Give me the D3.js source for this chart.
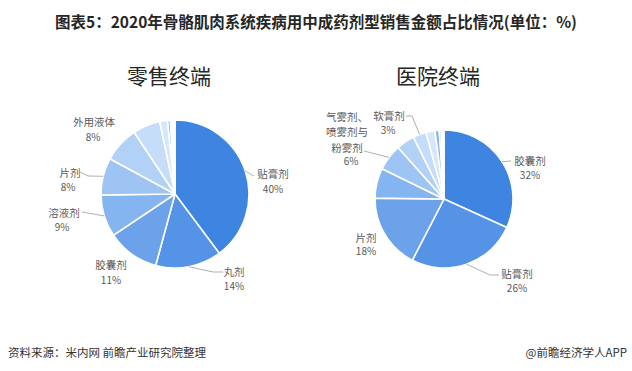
<!DOCTYPE html>
<html><head><meta charset="utf-8">
<script src="https://cdn.jsdelivr.net/npm/d3@7/dist/d3.min.js"></script>
<style>
html,body{margin:0;padding:0;background:#fff;}
svg{display:block;font-family:"Noto Sans CJK SC","Noto Sans",sans-serif;}
</style></head>
<body>
<svg id="chart" width="632" height="371"></svg>
<script>
// ---- data ----
const titleText = "图表5：2020年骨骼肌肉系统疾病用中成药剂型销售金额占比情况(单位：%)";
const retailTitle = "零售终端";
const hospitalTitle = "医院终端";
const retailCategories = ["贴膏剂","丸剂","胶囊剂","溶液剂","片剂","外用液体","","","","","",""];
const retailValues = [39.8,14.4,11.4,9.2,8.1,7.8,6.0,1.7,0.6,0.4,0.3,0.3];
const hospitalCategories = ["胶囊剂","贴膏剂","片剂","","气雾剂、喷雾剂与粉雾剂","","软膏剂","","","","",""];
const hospitalValues = [31.8,25.8,17.6,7.0,6.2,4.3,3.1,2.1,1.0,0.5,0.4,0.2];
const sourceText = "资料来源：米内网 前瞻产业研究院整理";
const creditText = "@前瞻经济学人APP";

// ---- styling / layout ----
const palette = ["#3d85e0","#5593e6","#6ba2ea","#84b5f0","#9ec4f3","#b2d1f6","#c5ddf9","#d5e7fb","#8db3e3","#a9c6ec","#c3d8f2","#dbe8f7"];
const svg = d3.select("#chart");

svg.append("text").attr("x",316).attr("y",21).attr("text-anchor","middle")
  .attr("dominant-baseline","central").attr("font-size",15.5).attr("font-weight","bold")
  .attr("fill","#262626").text(titleText);

svg.append("text").attr("x",8).attr("y",352).attr("dominant-baseline","central")
  .attr("font-size",11.5).attr("fill","#333").text(sourceText);
svg.append("text").attr("x",627).attr("y",352).attr("dominant-baseline","central")
  .attr("text-anchor","end").attr("font-size",11.5).attr("fill","#333").text(creditText);

// label layout (relative to pie centre); leader = bend points after the slice's outer-arc midpoint
const retailLayout = {
  "贴膏剂": {lines:["贴膏剂"], x:98, y:-21, pctDy:15, leader:[[75,-20],[79,-18]]},
  "丸剂":   {lines:["丸剂"], x:59, y:77, pctDy:14, leader:[[38,78],[48,78]]},
  "胶囊剂": {lines:["胶囊剂"], x:-64, y:70, pctDy:15},
  "溶液剂": {lines:["溶液剂"], x:-111, y:18, pctDy:14, pctDx:-2, leader:[[-93,18]]},
  "片剂":   {lines:["片剂"], x:-105, y:-22, pctDy:14, pctDx:-2, leader:[[-87,-18],[-95,-22]]},
  "外用液体": {lines:["外用液体"], x:-81, y:-73, pctDy:15, pctDx:-1}
};
const hospitalLayout = {
  "胶囊剂": {lines:["胶囊剂"], x:86, y:-39, pctDy:14, leader:[[67,-38]]},
  "贴膏剂": {lines:["贴膏剂"], x:73, y:74, pctDy:14, leader:[[46,76],[55,76]]},
  "片剂":   {lines:["片剂"], x:-78, y:38, pctDy:13.5},
  "气雾剂、喷雾剂与粉雾剂": {lines:["气雾剂、","喷雾剂与","粉雾剂"], x:-97, y:-83, lineH:15.5, pctDy:13.5, pctDx:4, leader:[[-80,-48]]},
  "软膏剂": {lines:["软膏剂"], x:-55, y:-84, pctDy:14, pctDx:-1, leader:[[-32,-83],[-38,-83]]}
};

function drawPie(cx, cy, r, cats, vals, title, layout){
  const g = svg.append("g").attr("transform",`translate(${cx},${cy})`);
  const data = cats.map((c,i)=>({name:c, value:vals[i], idx:i}));
  const total = d3.sum(vals);
  const pie = d3.pie().value(d=>d.value).sort(null).startAngle(0).endAngle(2*Math.PI);
  const arcs = pie(data);
  const arc = d3.arc().innerRadius(0).outerRadius(r);
  const color = d3.scaleOrdinal().domain(d3.range(cats.length)).range(palette);

  g.selectAll("path.slice").data(arcs).join("path").attr("class","slice")
    .attr("d",arc).attr("fill",d=>color(d.data.idx))
    .attr("stroke","#fff").attr("stroke-width",1.6).attr("stroke-linejoin","round");

  svg.append("text").attr("x",cx - 6).attr("y",75).attr("text-anchor","middle")
    .attr("dominant-baseline","central").attr("font-size",21).attr("fill","#262626").text(title);

  const fmt = v => Math.round(v/total*100) + "%";
  const line = d3.line();
  arcs.forEach(a=>{
    const L = layout[a.data.name];
    if(!a.data.name || !L) return;
    const mid = (a.startAngle + a.endAngle)/2;
    const px = r*Math.sin(mid), py = -r*Math.cos(mid);
    if(L.leader){
      const pts = [[px,py]].concat(L.leader);
      g.append("path").attr("d",line(pts)).attr("fill","none")
        .attr("stroke","#a6a6a6").attr("stroke-width",0.9);
    }
    const lh = L.lineH || 15;
    L.lines.forEach((t,i)=>{
      g.append("text").attr("x",L.x).attr("y",L.y + i*lh).attr("text-anchor","middle")
        .attr("dominant-baseline","central").attr("font-size",10.5).attr("fill","#595959").text(t);
    });
    g.append("text").attr("x",L.x + (L.pctDx||0)).attr("y",L.y + (L.lines.length-1)*lh + L.pctDy)
      .attr("text-anchor","middle").attr("dominant-baseline","central")
      .attr("font-size",10).attr("fill","#595959").text(fmt(a.data.value));
  });
}

drawPie(175, 194, 74, retailCategories, retailValues, retailTitle, retailLayout);
drawPie(444, 199, 69, hospitalCategories, hospitalValues, hospitalTitle, hospitalLayout);
</script>
</body></html>
